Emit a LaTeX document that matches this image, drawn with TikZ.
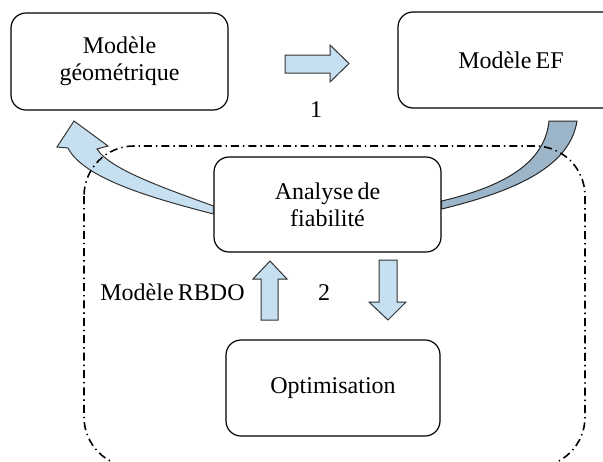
\documentclass[tikz,border=0pt]{standalone}
\usepackage{fontspec}
\setmainfont{Liberation Serif}[WordSpace=0.7]
\usetikzlibrary{calc}
\definecolor{lightblue}{RGB}{198,223,241}
\definecolor{steelgray}{RGB}{156,181,200}
\tikzset{
  box/.style={draw, line width=0.6pt, rounded corners=7.5pt, fill=white, align=center, inner sep=0pt},
  blockarrow/.style={draw=black!80, line width=0.5pt, fill=lightblue},
  band/.style={draw=black!85, line width=0.5pt, fill=steelgray},
  frame/.style={line width=0.8pt, rounded corners=25pt, dash pattern=on 4pt off 2pt on 0.7pt off 2pt},
}

\begin{document}
\begin{tikzpicture}[x=0.5pt, y=-0.5pt, font=\fontsize{12}{13.5}\selectfont]
    \clip (0,0) rectangle (603,461);
    % Boîtes
    \node[box, minimum width=108.5pt, minimum height=48.5pt] (geo) at (119.5,61.5) {Modèle\\géométrique};
    \node[box, minimum width=113pt, minimum height=48pt] (ef) at (511,60) {Modèle EF};
    \node[box, minimum width=113.5pt, minimum height=47.5pt] (fiab) at (327.5,204.5) {Analyse de\\fiabilité};
    \node[box, minimum width=107pt, minimum height=48pt] (opt) at (333,388) {Optimisation};
    % Flèches courbes
    \coordinate (tipL) at (74,121);
    \draw[blockarrow] ($(fiab.west)+(0,1.5)$) .. controls (170,190) and (110,170) .. (97,149)
        -- (108,146) -- (tipL) -- (57,147) -- (68,148)
        .. controls (84,180) and (160,200) .. ($(fiab.west)+(0,9.5)$) -- cycle;
    \draw[band] ($(fiab.east)+(0,-3.5)$) .. controls (510,185) and (545,160) .. (549,121)
        -- (577,121) .. controls (570,165) and (520,190) .. ($(fiab.east)+(0,4.5)$) -- cycle;
    % Flèches pleines
    \draw[blockarrow] (285,55) -- (330,55) -- (330,45) -- (349,63.5) -- (330,82) -- (330,73) -- (285,73) -- cycle;
    \draw[blockarrow] (261,320) -- (261,279) -- (253,279) -- (270,261) -- (287,279) -- (278,279) -- (278,320) -- cycle;
    \draw[blockarrow] (379,260) -- (397,260) -- (397,302) -- (406,302) -- (388,320) -- (369,302) -- (379,302) -- cycle;
    % Étiquettes
    \node (one) at (316,110) {1};
    \node (two) at (324,293) {2};
    \node[anchor=east, inner sep=0pt] (rbdo) at (245,292) {Modèle RBDO};
    % Cadre
    \draw[frame] (84,146) rectangle (585,467);
\end{tikzpicture}
\end{document}
